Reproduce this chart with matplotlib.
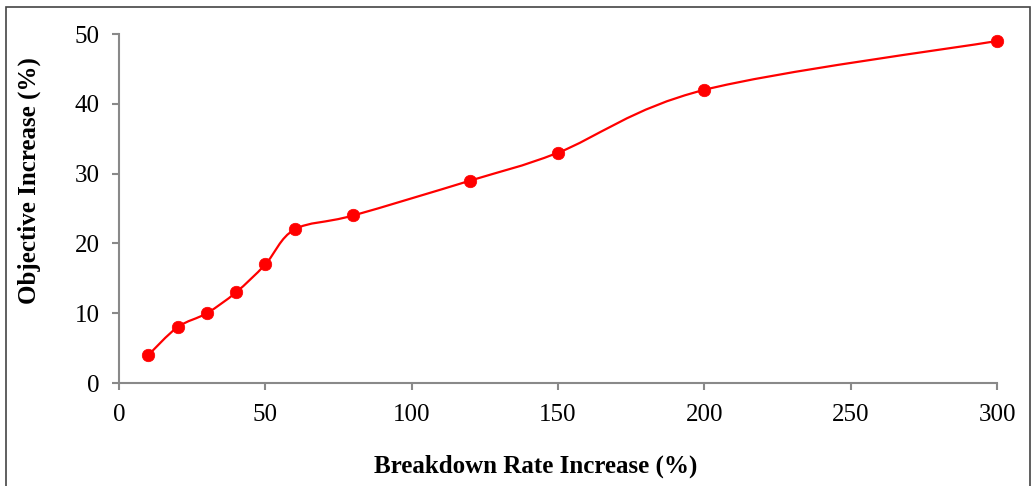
import matplotlib
matplotlib.use("Agg")
import matplotlib.pyplot as plt
import numpy as np
from matplotlib.path import Path
from matplotlib.patches import PathPatch, Rectangle

# data
rate_increase = [10, 20, 30, 40, 50, 60, 80, 120, 150, 200, 300]
objective_increase = [4, 8, 10, 13, 17, 22, 24, 29, 33, 42, 49]

x_ticks = [0, 50, 100, 150, 200, 250, 300]
y_ticks = [0, 10, 20, 30, 40, 50]

plt.rcParams['font.family'] = ['Liberation Serif', 'DejaVu Serif']

fig = plt.figure(figsize=(10.33, 4.86), dpi=100)
ax = fig.add_axes([0.1152, 0.2119, 0.8500, 0.7181])

# smoothed line (Excel-style Catmull-Rom Bezier) drawn as a path
pts = np.column_stack([rate_increase, objective_increase]).astype(float)
verts = [pts[0]]
codes = [Path.MOVETO]
n = len(pts)
for i in range(n - 1):
    p0 = pts[i - 1] if i > 0 else pts[i]
    p1 = pts[i]
    p2 = pts[i + 1]
    p3 = pts[i + 2] if i + 2 < n else pts[i + 1]
    c1 = p1 + (p2 - p0) / 6.0
    c2 = p2 - (p3 - p1) / 6.0
    verts += [c1, c2, p2]
    codes += [Path.CURVE4] * 3
ax.add_patch(PathPatch(Path(verts, codes), facecolor='none',
                       edgecolor='#ff0000', linewidth=1.6, zorder=2))

ax.plot(rate_increase, objective_increase, linestyle='none', marker='o',
        markersize=9, markeredgewidth=0.5, color='#ff0000', zorder=3,
        clip_on=False)

ax.set_xlim(0, 300)
ax.set_ylim(0, 50)
ax.set_xticks(x_ticks)
ax.set_yticks(y_ticks)

for side in ['top', 'right']:
    ax.spines[side].set_visible(False)
for side in ['left', 'bottom']:
    ax.spines[side].set_color('#898989')
    ax.spines[side].set_linewidth(1.5)
ax.tick_params(axis='both', direction='out', length=5, width=1.5,
               color='#898989', labelsize=18, labelcolor='black')
ax.tick_params(axis='x', pad=10)
ax.tick_params(axis='y', pad=9)

ax.set_xlabel('Breakdown Rate Increase (%)', fontsize=18, fontweight='bold')
ax.xaxis.set_label_coords(0.474, -0.204)
ax.set_ylabel('Objective Increase (%)', fontsize=18, fontweight='bold')
ax.yaxis.set_label_coords(-0.089, 0.579)

# chart area border
fig.patches.append(Rectangle((6 / 1033, -0.1), 1024 / 1033, 1.1 - 7 / 486,
                             transform=fig.transFigure, facecolor='none',
                             edgecolor='#444444', linewidth=1.2))

fig.savefig('out.png', dpi=100)
